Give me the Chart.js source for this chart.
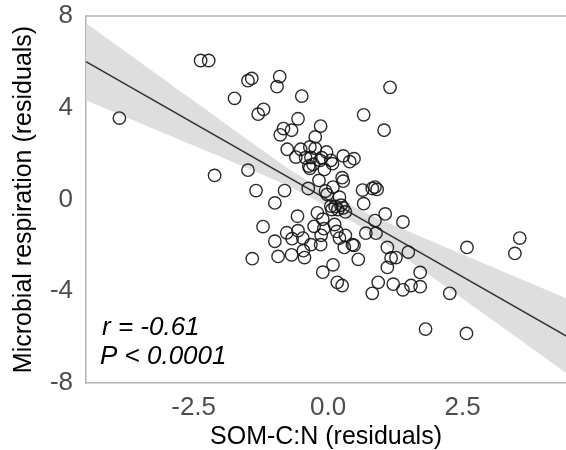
<!DOCTYPE html>
<html>
<head>
<meta charset="utf-8">
<script src="https://cdn.jsdelivr.net/npm/chart.js@4.4.1/dist/chart.umd.min.js"></script>
<style>
  html, body { margin: 0; padding: 0; background: #ffffff; }
  #wrap { width: 566px; height: 450px; }
</style>
</head>
<body>
<div id="wrap"><canvas id="c" width="566" height="450"></canvas></div>
<script>
// SOM-C:N residuals (x) vs microbial respiration residuals (y)
const somCN = [
  -3.88, -2.37, -2.22, -2.11, -1.74, -1.49, -1.42, -1.49, -1.34, -1.30,
  -1.20, -1.21, -1.41, -0.99, -0.99, -0.93, -0.90, -0.95, -0.81, -0.83,
  -0.89, -0.68, -0.76, -0.77, -0.68, -0.57, -0.56, -0.49, -0.60, -0.51,
  -0.42, -0.56, -0.47, -0.67, -0.46, -0.44, -0.37, -0.32, -0.34, -0.24,
  -0.24, -0.36, -0.28, -0.34, -0.20, -0.26, -0.17, -0.14, -0.15, -0.12,
  -0.07, -0.03, -0.10, -0.08, -0.13, -0.14, -0.10, 0.08, 0.05, -0.02,
  0.09, 0.05, 0.07, 0.12, 0.09, 0.17, 0.26, 0.16, 0.21, 0.28,
  0.26, 0.28, 0.21, 0.24, 0.28, 0.32, 0.18, 0.13, 0.32, 0.30,
  0.40, 0.48, 0.45, 0.48, 0.56, 0.66, 0.64, 0.66, 0.70, 0.82,
  0.87, 0.91, 0.87, 0.89, 0.82, 0.93, 1.04, 1.15, 1.06, 1.10,
  1.17, 1.26, 1.10, 1.21, 1.39, 1.49, 1.39, 1.54, 1.71, 1.71,
  1.81, 2.26, 2.58, 2.57, 3.47, 3.56, -0.32, -0.05
];
const respiration = [
  3.55, 6.06, 6.06, 1.05, 4.41, 5.18, 5.28, 1.28, 0.39, 3.72,
  3.93, -1.18, -2.58, -0.15, -1.82, -2.48, 5.36, 4.92, 0.39, 3.09,
  2.82, 3.02, 2.19, -1.45, -2.41, -0.73, 3.52, 4.51, 1.85, 2.19,
  1.82, -1.36, -1.68, -1.71, -2.23, -2.53, 0.48, -1.97, 2.29, 2.73,
  2.23, 1.46, 1.53, 1.36, -0.58, -1.17, 0.83, 3.20, 1.71, 1.82,
  1.31, 2.07, -0.86, -1.27, -1.56, -1.97, -3.17, 1.56, 1.71, 0.22,
  0.54, -0.29, -0.44, -1.09, -2.85, -3.61, -3.75, -1.39, -1.68, 1.90,
  0.95, 0.80, 0.10, -0.25, -0.36, -0.54, -0.44, -0.30, -1.56, -2.09,
  1.65, 1.78, -1.97, -2.00, -2.61, 3.69, 0.41, -0.18, -1.47, 0.48,
  0.54, 0.44, -0.92, -1.47, -4.09, -3.61, 3.02, 4.89, -0.63, -2.09,
  -2.55, -2.53, -2.96, -3.69, -0.98, -2.29, -3.94, -3.75, -3.18, -3.80,
  -5.65, -4.09, -2.09, -5.84, -2.35, -1.68, 1.83, 0.37
];

// fitted regression line and its confidence band
const fitX = [-4.5, 4.5];
const fitY = [6.01, -6.05];
const bandX = [-4.5, -3.5, -2.5, -1.5, -0.5, 0.5, 1.5, 2.5, 3.5, 4.5];
const bandUpper = [7.68, 6.00, 4.31, 2.62, 0.99, -0.35, -1.40, -2.40, -3.39, -4.38];
const bandLower = [4.33, 3.34, 2.35, 1.36, 0.31, -1.03, -2.66, -4.33, -6.01, -7.70];

// axis ticks
const xTicks = [-2.5, 0.0, 2.5];
const yTicks = [-8, -4, 0, 4, 8];

// statistics annotation
const statLines = ['r = -0.61', 'P < 0.0001'];

const FONT = "'Liberation Sans', Arial, Helvetica, sans-serif";
const FRAME = '#b5b5b5';

const pairs = (xs, ys) => xs.map((x, i) => ({ x: x, y: ys[i] }));

const framePlugin = {
  id: 'frameTop',
  beforeDatasetsDraw(chart) {
    const { ctx, chartArea } = chart;
    ctx.save();
    ctx.strokeStyle = FRAME;
    ctx.lineWidth = 1.5;
    ctx.beginPath();
    ctx.moveTo(chartArea.left - 0.75, chartArea.top);
    ctx.lineTo(chartArea.right + 2, chartArea.top);
    ctx.stroke();
    ctx.restore();
  }
};

const statsPlugin = {
  id: 'stats',
  afterDatasetsDraw(chart) {
    const { ctx, chartArea } = chart;
    ctx.save();
    ctx.fillStyle = '#000000';
    ctx.font = 'italic 26px ' + FONT;
    ctx.textAlign = 'left';
    ctx.textBaseline = 'middle';
    ctx.fillText(statLines[0], chartArea.left + 16, chartArea.bottom - 55);
    ctx.fillText(statLines[1], chartArea.left + 14, chartArea.bottom - 26);
    ctx.restore();
  }
};

new Chart(document.getElementById('c'), {
  type: 'scatter',
  data: {
    datasets: [
      {
        label: 'samples',
        data: pairs(somCN, respiration),
        pointStyle: 'circle',
        pointRadius: 6.2,
        pointBorderWidth: 1.4,
        pointBorderColor: 'rgba(20,20,20,0.9)',
        pointBackgroundColor: 'rgba(0,0,0,0)',
        order: 0
      },
      {
        label: 'fit',
        data: pairs(fitX, fitY),
        showLine: true,
        borderColor: '#333333',
        borderWidth: 1.6,
        pointRadius: 0,
        fill: false,
        order: 1
      },
      {
        label: 'upper',
        data: pairs(bandX, bandUpper),
        showLine: true,
        borderWidth: 0,
        borderColor: 'rgba(0,0,0,0)',
        pointRadius: 0,
        tension: 0.3,
        fill: '+1',
        backgroundColor: '#dedede',
        order: 2
      },
      {
        label: 'lower',
        data: pairs(bandX, bandLower),
        showLine: true,
        borderWidth: 0,
        borderColor: 'rgba(0,0,0,0)',
        pointRadius: 0,
        tension: 0.3,
        fill: false,
        order: 3
      }
    ]
  },
  options: {
    responsive: false,
    animation: false,
    layout: { autoPadding: false, padding: { top: 16, right: 0, left: 0, bottom: 0 } },
    plugins: {
      legend: { display: false },
      tooltip: { enabled: false }
    },
    scales: {
      x: {
        type: 'linear',
        min: -4.5,
        max: 4.42,
        grid: { display: false, drawTicks: false },
        border: { display: true, color: FRAME, width: 1.5 },
        afterBuildTicks: (s) => { s.ticks = xTicks.map(v => ({ value: v })); },
        afterFit: (s) => { s.height = 67; s.paddingLeft = 0; s.paddingRight = 0; },
        ticks: {
          color: '#4d4d4d',
          font: { family: FONT, size: 26 },
          padding: 9,
          maxRotation: 0,
          callback: (v) => Number(v).toFixed(1)
        },
        title: {
          display: true,
          text: 'SOM-C:N (residuals)',
          color: '#000000',
          font: { family: FONT, size: 25, lineHeight: 1 },
          padding: { top: 0, bottom: 0 }
        }
      },
      y: {
        type: 'linear',
        min: -8,
        max: 8,
        grid: { display: false, drawTicks: false },
        border: { display: true, color: FRAME, width: 1.5 },
        afterBuildTicks: (s) => { s.ticks = yTicks.map(v => ({ value: v })); },
        afterFit: (s) => { s.width = 86; s.paddingTop = 0; s.paddingBottom = 0; },
        ticks: {
          color: '#4d4d4d',
          font: { family: FONT, size: 26 },
          padding: 13,
          callback: (v) => String(v)
        },
        title: {
          display: true,
          text: 'Microbial respiration (residuals)',
          color: '#000000',
          font: { family: FONT, size: 25, lineHeight: 1 },
          padding: { top: 12, bottom: 0 }
        }
      }
    }
  },
  plugins: [framePlugin, statsPlugin]
});
</script>
</body>
</html>
